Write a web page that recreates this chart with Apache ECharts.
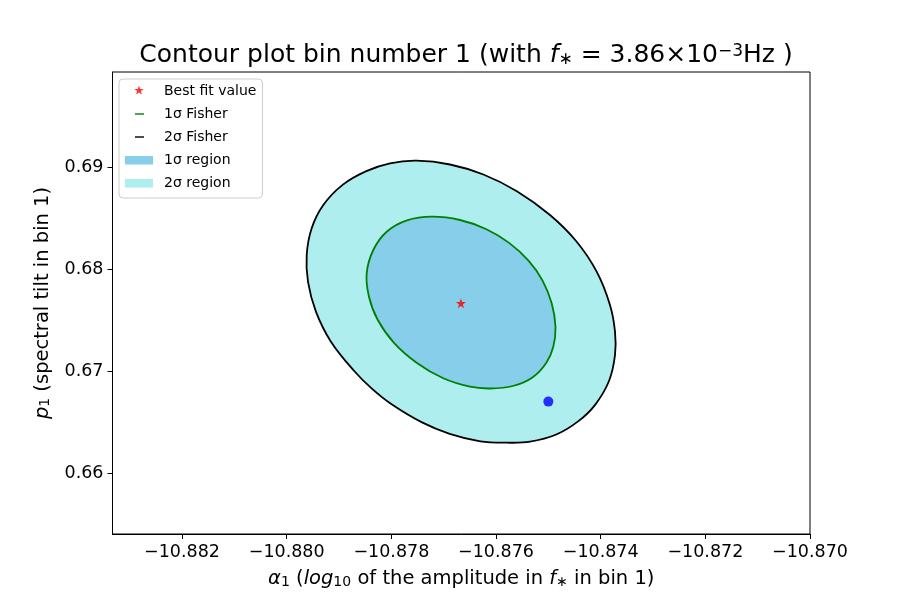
<!DOCTYPE html>
<html>
<head>
<meta charset="utf-8">
<script src="https://cdn.jsdelivr.net/npm/echarts@6/dist/echarts.min.js"></script>
<style>
  html, body { margin: 0; padding: 0; background: #fff; }
  #main { width: 900px; height: 600px; }
</style>
</head>
<body>
<div id="main"></div>
<script>
// tick labels
const xTicks = [-10.882, -10.880, -10.878, -10.876, -10.874, -10.872, -10.870];
const yTicks = [0.66, 0.67, 0.68, 0.69];

// 2 sigma contour
const sigma2Alpha = [-10.877515, -10.876879, -10.876241, -10.875601, -10.874968, -10.874458, -10.874076, -10.873822,
  -10.873726, -10.873726, -10.873841, -10.874110, -10.874431, -10.874848, -10.875350, -10.875796,
  -10.876298, -10.876885, -10.877414, -10.877995, -10.878377, -10.878727, -10.879157, -10.879441,
  -10.879592, -10.879617, -10.879522, -10.879300, -10.878925, -10.878478, -10.878025];
const sigma2P = [0.690618, 0.690245, 0.689265, 0.687628, 0.685294, 0.682677, 0.679736, 0.676471,
  0.673853, 0.671569, 0.669020, 0.666657, 0.665059, 0.663775, 0.663069, 0.662971,
  0.663108, 0.663843, 0.664961, 0.666736, 0.668294, 0.670098, 0.672902, 0.675824,
  0.678745, 0.681373, 0.683990, 0.686275, 0.688275, 0.689598, 0.690363];

// 1 sigma contour
const sigma1Alpha = [-10.877229, -10.876688, -10.876183, -10.875750, -10.875375, -10.875113, -10.874936, -10.874863,
  -10.874905, -10.875041, -10.875304, -10.875677, -10.876115, -10.876497, -10.877007, -10.877511,
  -10.877949, -10.878261, -10.878427, -10.878471, -10.878345, -10.878089, -10.877701];
const sigma1P = [0.685128, 0.684804, 0.683902, 0.682559, 0.680804, 0.678892, 0.676638, 0.674334,
  0.672383, 0.670794, 0.669373, 0.668530, 0.668285, 0.668461, 0.669285, 0.670785,
  0.672755, 0.675020, 0.677285, 0.679579, 0.681863, 0.683657, 0.684765];

const bestFit = [-10.87667, 0.67664];
const truePoint = [-10.875, 0.667];

const FONT = 'DejaVu Sans';
const starPath = 'path://M14,1.5L15.18,4.88L18.76,4.96L15.9,7.12L16.94,10.55L14,8.5L11.06,10.55L12.1,7.12L9.24,4.96L12.82,4.88Z';

function pairs(xs, ys) {
  return xs.map((x, i) => [x, ys[i]]);
}

// closed smoothed contour drawn through the axis scales
function contourSeries(name, xs, ys, fill, stroke) {
  return {
    type: 'custom',
    name: name,
    silent: true,
    itemStyle: { color: fill || stroke },
    data: pairs(xs, ys),
    encode: { x: 0, y: 1 },
    renderItem: function (params, api) {
      if (params.dataIndex !== 0) return null;
      const pts = xs.map((x, i) => api.coord([x, ys[i]]));
      return {
        type: 'polygon',
        shape: { points: pts, smooth: 0.36 },
        style: {
          fill: fill || 'none',
          stroke: stroke || 'none',
          lineWidth: stroke ? 1.8 : 0
        }
      };
    }
  };
}

const minus = s => s.replace('-', '\u2212');
const richMath = {
  ia: { fontStyle: 'italic', fontSize: 19.5, fontFamily: FONT },
  i: { fontStyle: 'italic', fontSize: 19.5, fontFamily: FONT },
  sub: { fontSize: 14, fontFamily: FONT, verticalAlign: 'bottom' }
};

let chart = echarts.init(document.getElementById('main'));
chart.setOption({
  animation: false,
  backgroundColor: '#fff',
  textStyle: { fontFamily: FONT, color: '#000' },
  title: {
    text: 'Contour plot bin number 1 (with {i|f}{sub|\u2217} = 3.86\u00d710{sup|\u22123}Hz )',
    left: 461,
    textAlign: 'center',
    top: 38,
    textStyle: {
      fontFamily: FONT, fontSize: 25, fontWeight: 'normal', color: '#000',
      rich: {
        i: { fontStyle: 'italic', fontSize: 25, fontFamily: FONT },
        sub: { fontSize: 17, fontFamily: FONT, verticalAlign: 'bottom' },
        sup: { fontSize: 17, fontFamily: FONT, verticalAlign: 'top' }
      }
    }
  },
  grid: {
    left: 112.5, right: 90, top: 72, bottom: 66,
    show: true, borderColor: '#000', borderWidth: 1, backgroundColor: 'transparent'
  },
  legend: {
    orient: 'vertical',
    left: 119,
    top: 79,
    padding: [5, 6, 8, 6],
    itemWidth: 34,
    itemHeight: 14,
    itemGap: 9,
    selectedMode: false,
    backgroundColor: '#fff',
    borderColor: '#cccccc',
    borderWidth: 1,
    borderRadius: 4,
    textStyle: { fontFamily: FONT, fontSize: 14, color: '#000' },
    data: [
      { name: 'Best fit value', icon: 'path://M0,0M14,1.5L15.18,4.88L18.76,4.96L15.9,7.12L16.94,10.55L14,8.5L11.06,10.55L12.1,7.12L9.24,4.96L12.82,4.88ZM34,14' },
      { name: '1\u03c3 Fisher', icon: 'path://M0,0M10,6.3H19V7.7H10ZM34,14' },
      { name: '2\u03c3 Fisher', icon: 'path://M0,0M10,6.3H19V7.7H10ZM34,14' },
      { name: '1\u03c3 region', icon: 'path://M0,0M0,3H28V11.5H0ZM34,14' },
      { name: '2\u03c3 region', icon: 'path://M0,0M0,3H28V11.5H0ZM34,14' }
    ]
  },
  xAxis: {
    type: 'value',
    min: -10.883328,
    max: -10.870,
    name: '{ia|\u03b1}{sub|1} ({i|log}{sub|10} of the amplitude in {i|f}{sub|\u2217} in bin 1)',
    nameLocation: 'middle',
    nameGap: 35,
    nameTextStyle: { fontFamily: FONT, fontSize: 19.5, color: '#000', rich: richMath },
    axisLine: { show: true, onZero: false, lineStyle: { color: '#000', width: 1 } },
    axisTick: { show: true, inside: false, length: 5, customValues: xTicks, lineStyle: { color: '#000' } },
    axisLabel: {
      customValues: xTicks,
      fontFamily: FONT, fontSize: 17.5, color: '#000', margin: 9,
      formatter: v => minus(v.toFixed(3))
    },
    splitLine: { show: false }
  },
  yAxis: {
    type: 'value',
    min: 0.654020,
    max: 0.699314,
    name: '{i|p}{sub|1} (spectral tilt in bin 1)',
    nameLocation: 'middle',
    nameGap: 60,
    nameTextStyle: { fontFamily: FONT, fontSize: 19.5, color: '#000', rich: richMath },
    axisLine: { show: true, onZero: false, lineStyle: { color: '#000', width: 1 } },
    axisTick: { show: true, inside: false, length: 5, customValues: yTicks, lineStyle: { color: '#000' } },
    axisLabel: {
      customValues: yTicks,
      fontFamily: FONT, fontSize: 17.5, color: '#000', margin: 9,
      formatter: v => v.toFixed(2)
    },
    splitLine: { show: false }
  },
  series: [
    contourSeries('2\u03c3 region', sigma2Alpha, sigma2P, '#afeeee', null),
    contourSeries('1\u03c3 region', sigma1Alpha, sigma1P, '#87ceeb', null),
    contourSeries('1\u03c3 Fisher', sigma1Alpha, sigma1P, null, '#008000'),
    contourSeries('2\u03c3 Fisher', sigma2Alpha, sigma2P, null, '#000000'),
    {
      type: 'scatter',
      name: 'Best fit value',
      symbol: starPath,
      symbolSize: 10,
      itemStyle: { color: '#ff0000' },
      data: [bestFit],
      z: 5
    },
    {
      type: 'scatter',
      name: 'true value',
      symbol: 'circle',
      symbolSize: 10,
      itemStyle: { color: '#0000ff' },
      data: [truePoint],
      z: 5
    }
  ]
});
window.addEventListener('resize', function () {
  chart.resize();
});
</script>
</body>
</html>
